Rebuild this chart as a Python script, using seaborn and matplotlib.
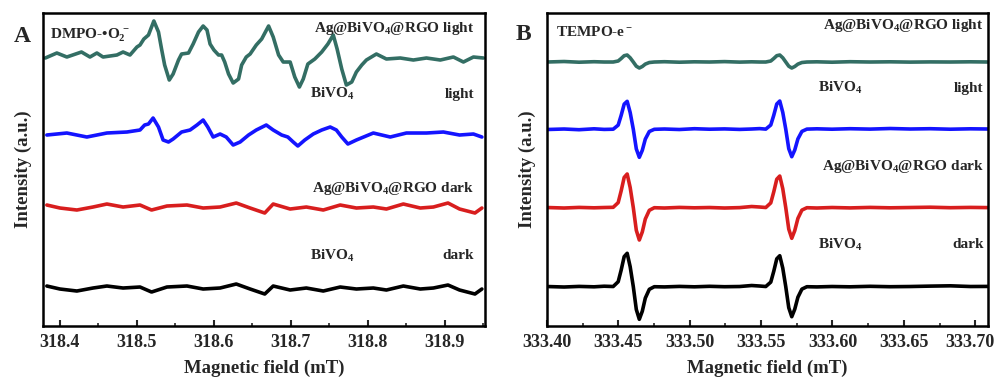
import numpy as np
import pandas as pd
import matplotlib
matplotlib.use('Agg')
import matplotlib.pyplot as plt
import matplotlib.transforms as mtransforms
from matplotlib.ticker import MultipleLocator, NullLocator
import seaborn as sns

# ---- Panel A: DMPO-•O2- spectra (field in mT, intensity a.u. with stacking offset) ----
a_teal_x = [318.381, 318.396, 318.409, 318.428, 318.439, 318.448, 318.456, 318.474, 318.482, 318.491,
            318.500, 318.504, 318.509, 318.515, 318.522, 318.528, 318.532, 318.536, 318.542, 318.547,
            318.554, 318.558, 318.567, 318.573, 318.580, 318.586, 318.591, 318.595, 318.600, 318.606,
            318.610, 318.614, 318.619, 318.625, 318.632, 318.636, 318.642, 318.647, 318.655, 318.662,
            318.671, 318.677, 318.684, 318.690, 318.699, 318.705, 318.711, 318.716, 318.722, 318.731,
            318.740, 318.748, 318.755, 318.760, 318.766, 318.772, 318.779, 318.785, 318.792, 318.798,
            318.811, 318.824, 318.842, 318.859, 318.876, 318.894, 318.911, 318.924, 318.937, 318.950]
a_teal_y = [268, 273, 269, 274, 269, 273, 269, 271, 274, 271,
            279, 281, 287, 291, 305, 294, 277, 261, 246, 252,
            266, 272, 273, 282, 294, 300, 296, 282, 276, 271,
            271, 264, 252, 243, 247, 261, 269, 272, 281, 287,
            300, 289, 271, 264, 264, 249, 239, 247, 262, 267,
            274, 282, 291, 277, 257, 241, 244, 254, 261, 266,
            272, 267, 268, 266, 268, 266, 269, 264, 269, 268]

a_blue_x = [318.383, 318.409, 318.435, 318.461, 318.487, 318.504, 318.510, 318.515, 318.521, 318.528,
            318.534, 318.541, 318.547, 318.558, 318.569, 318.578, 318.586, 318.592, 318.599, 318.608,
            318.616, 318.625, 318.634, 318.645, 318.655, 318.668, 318.677, 318.688, 318.696, 318.703,
            318.709, 318.718, 318.729, 318.740, 318.751, 318.759, 318.766, 318.774, 318.785, 318.807,
            318.829, 318.850, 318.876, 318.898, 318.919, 318.937, 318.948]
a_blue_y = [191, 193, 189, 193, 194, 196, 201, 202, 208, 199,
            186, 184, 187, 194, 196, 201, 206, 199, 189, 192,
            189, 181, 184, 191, 196, 201, 196, 191, 189, 184,
            180, 186, 192, 196, 199, 196, 189, 182, 186, 193,
            189, 193, 193, 194, 191, 192, 189]

a_dark_x = [318.383, 318.400, 318.422, 318.443, 318.461, 318.482, 318.504, 318.519, 318.539, 318.565,
            318.586, 318.608, 318.629, 318.647, 318.666, 318.677, 318.699, 318.720, 318.742, 318.764,
            318.785, 318.807, 318.824, 318.846, 318.868, 318.885, 318.904, 318.919, 318.939, 318.948]
a_red_y = [121, 118, 116, 119, 122, 119, 121, 116, 120, 121,
           118, 119, 123, 118, 113, 122, 117, 119, 116, 121,
           118, 119, 117, 122, 118, 119, 123, 117, 113, 118]
a_black_y = [40, 37, 35, 38, 40, 38, 39, 34, 39, 40,
             37, 38, 42, 37, 32, 40, 36, 38, 35, 39,
             37, 38, 36, 40, 37, 38, 41, 36, 32, 37]

# ---- Panel B: TEMPO-e- spectra ----
b_x = [333.4000, 333.4120, 333.4225, 333.4330, 333.4401, 333.4464,
       333.4499, 333.4520, 333.4541, 333.4562, 333.4583, 333.4605, 333.4626, 333.4647, 333.4668, 333.4689, 333.4717, 333.4752,
       333.4823, 333.4928, 333.5033, 333.5139, 333.5244, 333.5350, 333.5434, 333.5490, 333.5533,
       333.5568, 333.5589, 333.5610, 333.5631, 333.5652, 333.5673, 333.5694, 333.5715, 333.5736, 333.5758, 333.5786, 333.5821,
       333.5891, 333.5997, 333.6123, 333.6264, 333.6404, 333.6545, 333.6685, 333.6826, 333.6967, 333.7093]
b_teal_y = [264, 264.5, 263.8, 264.3, 264, 264,
            265, 267.5, 270.3, 271, 268.2, 264, 259.8, 258, 259.5, 261.9, 263.5, 264,
            264.3, 263.8, 264.2, 264, 264.4, 263.9, 264.2, 264, 264,
            265, 267.5, 270.3, 271, 268.2, 264, 259.8, 258, 259.5, 261.9, 263.5, 264,
            264.2, 263.8, 264.3, 264, 264.2, 263.9, 264.1, 264, 264.2, 264]
b_blue_y = [196.5, 197, 196.3, 197.2, 196.6, 196.8,
            200.9, 210.7, 221.9, 224.7, 213.5, 196.7, 177.1, 168.7, 175.7, 186.9, 194.5, 196.7,
            197, 196.5, 197.3, 196.8, 197.1, 196.6, 197, 197.4, 196.9,
            201, 210.8, 222, 225, 213.6, 196.8, 177.3, 169.3, 176, 187.1, 194.6, 196.9,
            197.2, 196.8, 197.3, 196.9, 197.5, 197, 197.3, 196.8, 197.2, 197]
b_red_y = [118.5, 118, 118.6, 118.2, 118.5, 118.7,
           123.4, 135.2, 148.6, 152, 138.5, 118.3, 95.7, 86, 94.1, 107, 115.7, 118.3,
           118, 118.6, 118.2, 118.5, 118, 118.4, 119.5, 119, 118.5,
           123.1, 134.2, 146.8, 150, 137.3, 118.3, 96.9, 87.7, 95.4, 107.6, 115.9, 118.3,
           118, 118.5, 118.1, 118.6, 118.2, 118.5, 118.8, 118.3, 118.6, 118.4]
b_black_y = [39.5, 39, 39.6, 39.2, 39.8, 39.5,
             44.3, 56, 69.4, 72.7, 59.3, 39.3, 16.5, 6.7, 14.8, 27.9, 36.7, 39.3,
             39.1, 39.6, 39.2, 39.7, 39.3, 39.5, 40.5, 40, 39.5,
             43.9, 54.8, 67.2, 70.3, 57.9, 39.3, 18.3, 9.3, 16.8, 28.8, 36.9, 39.3,
             39.1, 39.5, 39.2, 39.7, 39.3, 39.5, 39.9, 40.2, 39.5, 39.6]

a_ticks = [318.4, 318.5, 318.6, 318.7, 318.8, 318.9]
b_ticks = [333.40, 333.45, 333.50, 333.55, 333.60, 333.65, 333.70]

TEAL = '#336e64'
BLUE = '#1414ff'
RED = '#d81e1e'
BLACK = '#000000'

sns.set_style('white')
plt.rcParams['font.family'] = ['Liberation Serif', 'DejaVu Serif']
plt.rcParams['font.weight'] = 'bold'
plt.rcParams['mathtext.fontset'] = 'custom'
plt.rcParams['mathtext.rm'] = 'Liberation Serif:bold'
plt.rcParams['mathtext.it'] = 'Liberation Serif:bold'
plt.rcParams['mathtext.bf'] = 'Liberation Serif:bold'
plt.rcParams['mathtext.default'] = 'rm'

fig = plt.figure(figsize=(9.95, 3.86), dpi=100)
ax_a = fig.add_axes([0.0432, 0.1554, 0.4442, 0.8109])
ax_b = fig.add_axes([0.5497, 0.1554, 0.4433, 0.8109])


def draw(ax, x, y, color):
    sns.lineplot(x=x, y=y, ax=ax, color=color, lw=2.6, estimator=None, sort=False)


draw(ax_a, a_teal_x, a_teal_y, TEAL)
draw(ax_a, a_blue_x, a_blue_y, BLUE)
draw(ax_a, a_dark_x, a_red_y, RED)
draw(ax_a, a_dark_x, a_black_y, BLACK)

draw(ax_b, b_x, b_teal_y, TEAL)
draw(ax_b, b_x, b_blue_y, BLUE)
draw(ax_b, b_x, b_red_y, RED)
draw(ax_b, b_x, b_black_y, BLACK)

ax_a.set_xlim(318.378, 318.952)
ax_a.set_xticks(a_ticks)
ax_a.set_xticklabels([f'{t:.1f}' for t in a_ticks])
ax_a.xaxis.set_minor_locator(MultipleLocator(0.05))

ax_b.set_xlim(333.40, 333.709)
ax_b.set_xticks(b_ticks)
ax_b.set_xticklabels([f'{t:.2f}' for t in b_ticks])
ax_b.xaxis.set_minor_locator(MultipleLocator(0.025))

for ax in (ax_a, ax_b):
    ax.set_ylim(0, 313)
    ax.yaxis.set_major_locator(NullLocator())
    for s in ax.spines.values():
        s.set_linewidth(1.8)
        s.set_color('black')
    ax.tick_params(axis='x', which='major', direction='in', length=4, width=1.5,
                   labelsize=13, pad=6, bottom=True)
    ax.tick_params(axis='x', which='minor', direction='in', length=2.5, width=1.2, bottom=True)
    ax.set_xlabel('Magnetic field (mT)', fontsize=13.5, fontweight='bold', labelpad=6)
    ax.set_ylabel('Intensity (a.u.)', fontsize=13.5, fontweight='bold', labelpad=8)

# nudge the last tick label of panel B so it stays inside the figure
last = ax_b.get_xticklabels()[-1]
last.set_transform(last.get_transform() + mtransforms.ScaledTranslation(-5 / 100, 0, fig.dpi_scale_trans))


def label(ax, x, y, s, ha='left', size=11):
    ax.text(x, y, s, transform=ax.transAxes, ha=ha, va='center', fontsize=size, fontweight='bold')


label(ax_a, 0.015, 0.93, r'DMPO-•O$_2^{\,-}$')
label(ax_a, 0.975, 0.95, r'Ag@BiVO$_4$@RGO light', ha='right')
label(ax_a, 0.605, 0.74, r'BiVO$_4$')
label(ax_a, 0.975, 0.74, 'light', ha='right')
label(ax_a, 0.975, 0.44, r'Ag@BiVO$_4$@RGO dark', ha='right')
label(ax_a, 0.605, 0.225, r'BiVO$_4$')
label(ax_a, 0.975, 0.225, 'dark', ha='right')

label(ax_b, 0.02, 0.94, r'TEMPO-e$^-$')
label(ax_b, 0.99, 0.96, r'Ag@BiVO$_4$@RGO light', ha='right')
label(ax_b, 0.615, 0.76, r'BiVO$_4$')
label(ax_b, 0.99, 0.76, 'light', ha='right')
label(ax_b, 0.99, 0.51, r'Ag@BiVO$_4$@RGO dark', ha='right')
label(ax_b, 0.615, 0.26, r'BiVO$_4$')
label(ax_b, 0.99, 0.26, 'dark', ha='right')

fig.text(22 / 995, 1 - 37 / 386, 'A', fontsize=17, fontweight='bold', ha='center', va='center')
fig.text(523 / 995, 1 - 34 / 386, 'B', fontsize=17, fontweight='bold', ha='center', va='center')

fig.savefig('out.png', dpi=100)
